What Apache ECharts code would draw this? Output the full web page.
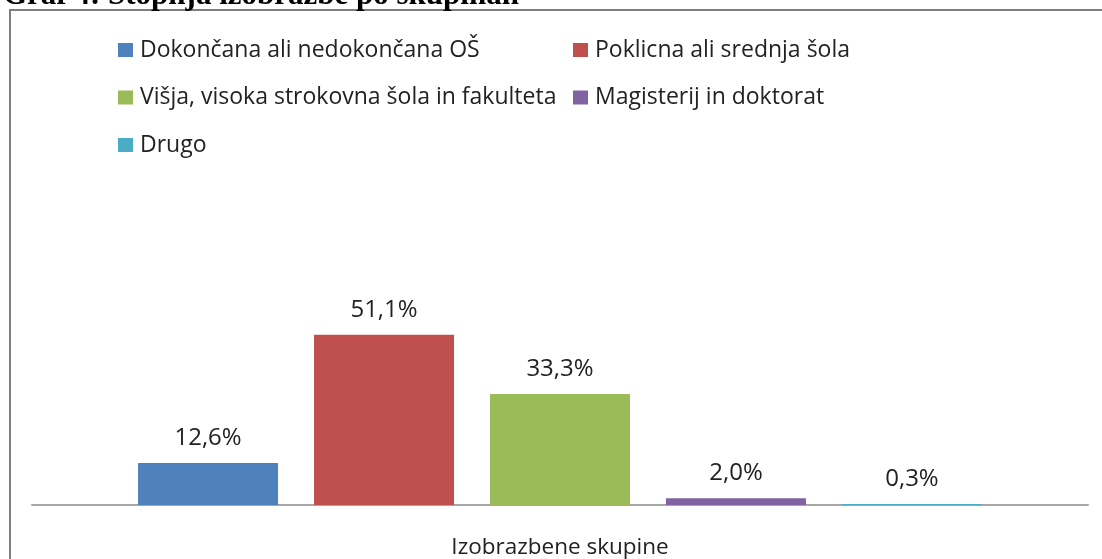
<!DOCTYPE html>
<html>
<head>
<meta charset="utf-8">
<script src="https://cdn.jsdelivr.net/npm/echarts@6/dist/echarts.min.js"></script>
<style>
  html, body { margin: 0; padding: 0; background: #fff; }
  #main { width: 1102px; height: 559px; }
</style>
</head>
<body>
<div id="main"></div>
<script>
// podatki z grafa
var categories = ['Izobrazbene skupine'];
var seriesNames = [
    'Dokončana ali nedokončana OŠ',
    'Poklicna ali srednja šola',
    'Višja, visoka strokovna šola in fakulteta',
    'Magisterij in doktorat',
    'Drugo'
];
var seriesValues = [12.6, 51.1, 33.3, 2.0, 0.3];
var colors = ['#4f81bd', '#c0504d', '#9bbb59', '#8064a2', '#4bacc6'];

var font = '"Open Sans", sans-serif';
var myChart = echarts.init(document.getElementById('main'));

var legendBase = {
    orient: 'vertical',
    icon: 'rect',
    itemWidth: 15,
    itemHeight: 14,
    itemGap: 23.5,
    top: 33,
    textStyle: { fontFamily: font, fontSize: 23, color: '#222', lineHeight: 24, padding: [0, 0, 0, 2] },
    selectedMode: false
};

var option = {
    backgroundColor: '#fff',
    animation: false,
    color: colors,
    graphic: [
        {
            type: 'rect',
            shape: { x: 10, y: 10, width: 1200, height: 700 },
            style: { fill: 'none', stroke: '#7f7f7f', lineWidth: 2 },
            silent: true
        },
        {
            type: 'text',
            x: 3,
            y: -4,
            style: {
                text: 'Graf 4: Stopnja izobrazbe po skupinah',
                font: 'bold 31px "Liberation Serif", serif',
                fill: '#000',
                verticalAlign: 'middle'
            },
            silent: true
        }
    ],
    legend: [
        Object.assign({}, legendBase, { left: 113, data: [seriesNames[0], seriesNames[2], seriesNames[4]] }),
        Object.assign({}, legendBase, { left: 568, data: [seriesNames[1], seriesNames[3]] })
    ],
    grid: { left: 32, right: 14, top: 305, bottom: 54 },
    xAxis: {
        type: 'category',
        data: categories,
        axisLine: { lineStyle: { color: '#a6a6a6', width: 2 } },
        axisTick: { show: false },
        axisLabel: { fontFamily: font, fontSize: 22.5, color: '#222', margin: 31 }
    },
    yAxis: {
        type: 'value',
        min: 0,
        max: 60,
        show: false,
        splitLine: { show: false }
    },
    series: seriesNames.map(function (name, i) {
        return {
            name: name,
            type: 'bar',
            barWidth: 140,
            barGap: '25.7%',
            data: [seriesValues[i]],
            label: {
                show: true,
                position: 'top',
                distance: 13,
                fontFamily: font,
                fontSize: 24,
                color: '#222',
                formatter: function (p) {
                    return p.value.toFixed(1).replace('.', ',') + '%';
                }
            }
        };
    })
};
myChart.setOption(option);
</script>
</body>
</html>
